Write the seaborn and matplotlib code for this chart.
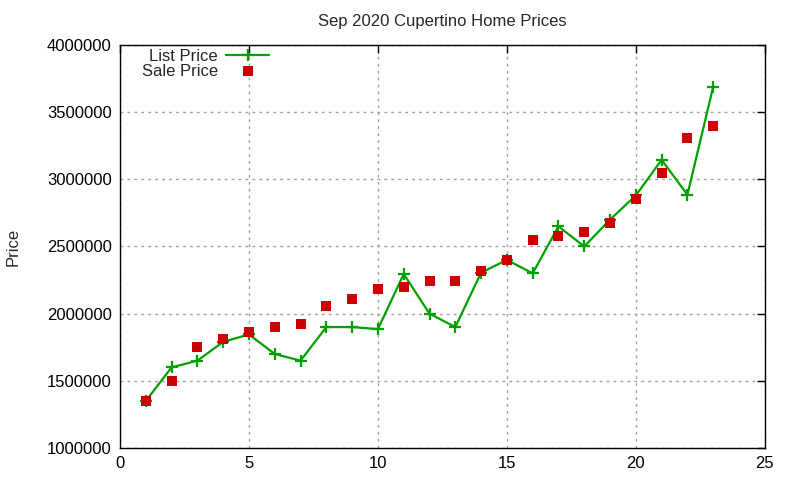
import matplotlib
matplotlib.use("Agg")
import matplotlib.pyplot as plt
import seaborn as sns
import pandas as pd
from matplotlib.ticker import MultipleLocator, FuncFormatter

homes = list(range(1, 24))
list_price = [1350000, 1600000, 1650000, 1790000, 1845000, 1700000, 1650000, 1900000,
              1900000, 1885000, 2295000, 2000000, 1900000, 2305000, 2400000, 2300000,
              2650000, 2500000, 2700000, 2880000, 3145000, 2885000, 3690000]
sale_price = [1350000, 1500000, 1750000, 1815000, 1860000, 1900000, 1925000, 2060000,
              2110000, 2180000, 2200000, 2245000, 2245000, 2320000, 2400000, 2545000,
              2580000, 2610000, 2675000, 2855000, 3050000, 3310000, 3400000]

df = pd.DataFrame({"n": homes, "list": list_price, "sale": sale_price})

sns.set_style("white")
plt.rcParams['font.family'] = ['Liberation Sans', 'DejaVu Sans']

fig = plt.figure(figsize=(8, 4.8), dpi=100)
ax = fig.add_axes([0.15, 0.0667, 0.806, 0.8396])

sns.lineplot(data=df, x="n", y="list", ax=ax, color="#00a000", lw=1.6,
             marker="+", markersize=9, markeredgewidth=1.6, markeredgecolor="#00a000",
             label="List Price")
sns.scatterplot(data=df, x="n", y="sale", ax=ax, color="#cc0000", marker="s",
                s=55, linewidth=0, label="Sale Price", zorder=3)

ax.set_xlim(0, 25)
ax.set_ylim(1000000, 4000000)
ax.xaxis.set_major_locator(MultipleLocator(5))
ax.yaxis.set_major_locator(MultipleLocator(500000))
ax.yaxis.set_major_formatter(FuncFormatter(lambda v, p: f"{int(v)}"))
ax.grid(True, color="#a0a0a0", linestyle=(0, (2, 3)), linewidth=1)
ax.tick_params(direction="in", length=6, width=1, top=True, right=True,
               labelsize=12, colors="black", pad=6)
for s in ax.spines.values():
    s.set_color("black")
    s.set_linewidth(1)
ax.set_xlabel("")
ax.set_ylabel("Price", fontsize=12)
ax.yaxis.set_label_coords(-0.154, 0.5)
ax.set_title("Sep 2020 Cupertino Home Prices", fontsize=12, pad=14)

leg = ax.legend(loc="upper left", bbox_to_anchor=(0.0155, 1.02), frameon=False,
                markerfirst=False, fontsize=12, handlelength=2.6,
                labelspacing=0.0, borderaxespad=0.3, handletextpad=0.5)
for t in leg.get_texts():
    t.set_ha("right")

fig.savefig("out.png", dpi=100)
